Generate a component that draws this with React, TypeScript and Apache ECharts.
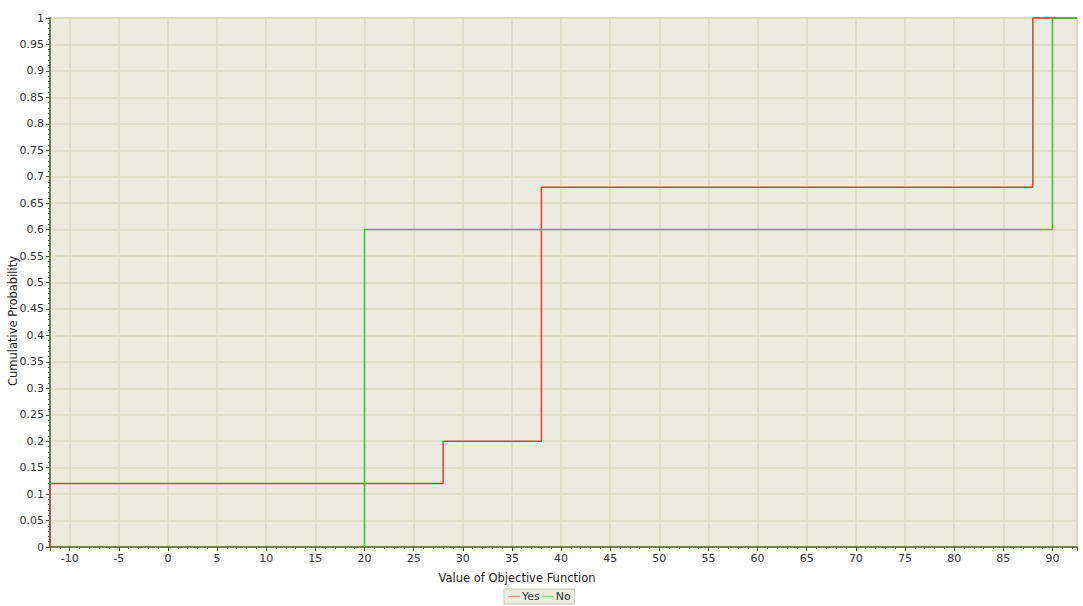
import React, { useEffect, useRef } from "react";
import * as echarts from "echarts";

const seriesNames = ["Yes", "No"];
const yesX = [-12, -12, 28, 38, 88, 92.5];
const yesY = [0, 0.12, 0.2, 0.68, 1, 1];
const noX = [20, 20, 90, 92.5];
const noY = [0, 0.6, 1, 1];
const xMin = -12;
const xMax = 92.5;
const xTitle = "Value of Objective Function";
const yTitle = "Cumulative Probability";

const FONT = "DejaVu Sans";
const AXIS = "#4f6228";

export default function App() {
  const ref = useRef<HTMLDivElement>(null);
  useEffect(() => {
    if (!ref.current) return;
    const chart = echarts.init(ref.current, undefined, { renderer: "svg" });
    const zip = (xs: number[], ys: number[]) => xs.map((x, i) => [x, ys[i]]);
    chart.setOption({
      animation: false,
      backgroundColor: "#ffffff",
      textStyle: { fontFamily: FONT },
      grid: {
        left: 50,
        right: 6,
        top: 18,
        bottom: 59,
        show: true,
        backgroundColor: "#ECEBDF",
        borderColor: "#D5D5BF",
        borderWidth: 2,
      },
      xAxis: {
        type: "value",
        min: xMin,
        max: xMax,
        splitNumber: 20,
        minInterval: 5,
        maxInterval: 5,
        axisLine: { show: true, onZero: false, lineStyle: { color: AXIS, width: 1.5 } },
        axisTick: { show: true, length: 4, lineStyle: { color: AXIS } },
        minorTick: { show: true, splitNumber: 5, length: 2, lineStyle: { color: AXIS } },
        axisLabel: {
          color: "#333",
          fontFamily: FONT,
          fontSize: 11,
          margin: 6,
          showMinLabel: false,
          showMaxLabel: false,
        },
        splitLine: { show: true, lineStyle: { color: "#DCDBC4", width: 1.5 } },
      },
      yAxis: {
        type: "value",
        min: 0,
        max: 1,
        interval: 0.05,
        axisLine: { show: true, onZero: false, lineStyle: { color: AXIS, width: 1.5 } },
        axisTick: { show: true, length: 4, lineStyle: { color: AXIS } },
        minorTick: { show: true, splitNumber: 5, length: 2, lineStyle: { color: AXIS } },
        axisLabel: { color: "#333", fontFamily: FONT, fontSize: 11, margin: 6 },
        splitLine: { show: true, lineStyle: { color: "#DCDBC4", width: 1.5 } },
      },
      legend: {
        left: 504,
        top: 589,
        padding: [2, 4, 2, 4],
        itemGap: 2,
        itemWidth: 12,
        itemHeight: 1.5,
        icon: "rect",
        backgroundColor: "#EDEDDF",
        borderColor: "#C9C9B4",
        borderWidth: 1,
        textStyle: { fontFamily: FONT, fontSize: 11, color: "#333", padding: [0, 0, 0, -3] },
        data: [
          { name: seriesNames[0], itemStyle: { color: "#F59090" } },
          { name: seriesNames[1], itemStyle: { color: "#8ED88E" } },
        ],
      },
      graphic: [
        {
          type: "text",
          x: 517,
          y: 578,
          style: {
            text: xTitle,
            fontFamily: FONT,
            fontSize: 11.5,
            fill: "#222",
            align: "center",
            verticalAlign: "middle",
          },
        },
        {
          type: "text",
          x: 13,
          y: 321,
          rotation: Math.PI / 2,
          style: {
            text: yTitle,
            fontFamily: FONT,
            fontSize: 11.5,
            fill: "#222",
            align: "center",
            verticalAlign: "middle",
          },
        },
      ],
      series: [
        {
          name: seriesNames[0],
          type: "line",
          step: "end",
          symbol: "none",
          clip: false,
          data: zip(yesX, yesY),
          lineStyle: { color: "#F23A3A", width: 1.5 },
          itemStyle: { color: "#F23A3A" },
        },
        {
          name: seriesNames[1],
          type: "line",
          step: "end",
          symbol: "none",
          clip: false,
          data: zip(noX, noY),
          lineStyle: { color: "#2FC82F", width: 1.5 },
          itemStyle: { color: "#2FC82F" },
        },
      ],
    });
    return () => chart.dispose();
  }, []);
  return <div ref={ref} style={{ width: 1083, height: 606, position: "absolute", left: 0, top: 0 }} />;
}
